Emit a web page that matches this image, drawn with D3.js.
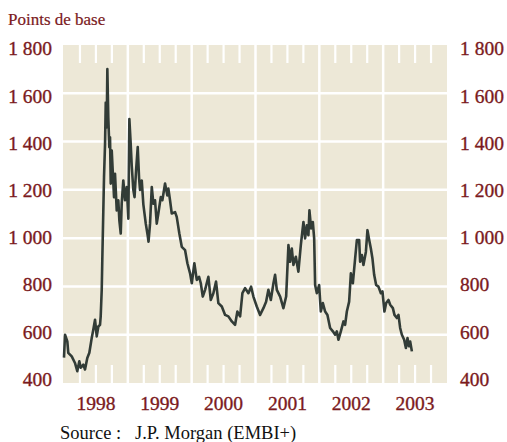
<!DOCTYPE html>
<html>
<head>
<meta charset="utf-8">
<script src="https://cdn.jsdelivr.net/npm/d3@7"></script>
<style>
  html, body { margin: 0; padding: 0; background: #ffffff; }
  svg { display: block; }
</style>
</head>
<body>
<svg id="chart" width="507" height="442"></svg>
<script>
// ---- Data ----
const yearLabels = ["1998", "1999", "2000", "2001", "2002", "2003"];
const yTickValues = [400, 600, 800, 1000, 1200, 1400, 1600, 1800];
const yAxisTitle = "Points de base";
const sourceText = "Source :\u00a0\u00a0\u00a0J.P. Morgan (EMBI+)";

// dates as decimal years
const dates = [
  1998.000, 1998.016, 1998.052, 1998.067, 1998.121, 1998.172, 1998.208, 1998.240, 1998.262, 1998.303,
  1998.329, 1998.365, 1998.397, 1998.434, 1998.459, 1998.486, 1998.513, 1998.538, 1998.564, 1998.575,
  1998.591, 1998.600, 1998.616, 1998.627, 1998.643, 1998.654, 1998.669, 1998.679, 1998.694, 1998.710,
  1998.721, 1998.732, 1998.748, 1998.763, 1998.784, 1998.799, 1998.826, 1998.851, 1998.867, 1998.889,
  1998.904, 1998.929, 1998.956, 1998.983, 1999.008, 1999.024, 1999.045, 1999.061, 1999.086, 1999.105,
  1999.129, 1999.155, 1999.176, 1999.191, 1999.218, 1999.243, 1999.281, 1999.312, 1999.324, 1999.348,
  1999.375, 1999.400, 1999.426, 1999.453, 1999.478, 1999.516, 1999.541, 1999.583, 1999.619, 1999.635,
  1999.661, 1999.688, 1999.740, 1999.766, 1999.807, 1999.845, 1999.897, 1999.933, 1999.975, 2000.002,
  2000.042, 2000.080, 2000.116, 2000.143, 2000.174, 2000.210, 2000.262, 2000.299, 2000.340, 2000.382,
  2000.418, 2000.472, 2000.524, 2000.575, 2000.629, 2000.680, 2000.716, 2000.759, 2000.795, 2000.837,
  2000.889, 2000.931, 2000.967, 2001.020, 2001.072, 2001.124, 2001.166, 2001.202, 2001.240, 2001.281,
  2001.307, 2001.334, 2001.386, 2001.437, 2001.480, 2001.516, 2001.542, 2001.569, 2001.594, 2001.632,
  2001.672, 2001.710, 2001.751, 2001.777, 2001.804, 2001.829, 2001.845, 2001.871, 2001.898, 2001.919,
  2001.934, 2001.961, 2001.997, 2002.023, 2002.055, 2002.091, 2002.127, 2002.169, 2002.212, 2002.248,
  2002.274, 2002.299, 2002.337, 2002.378, 2002.404, 2002.431, 2002.467, 2002.494, 2002.525, 2002.561,
  2002.588, 2002.624, 2002.639, 2002.666, 2002.691, 2002.729, 2002.754, 2002.781, 2002.807, 2002.832,
  2002.859, 2002.890, 2002.926, 2002.964, 2002.989, 2003.020, 2003.047, 2003.083, 2003.110, 2003.152,
  2003.177, 2003.215, 2003.240, 2003.266, 2003.293, 2003.329, 2003.356, 2003.381, 2003.403, 2003.423,
  2003.450
];
// EMBI+ spread, basis points
const spreads = [
  505, 600, 572, 525, 510, 483, 449, 490, 463, 476,
  456, 504, 525, 586, 621, 662, 593, 634, 641, 676,
  786, 909, 1115, 1253, 1390, 1562, 1459, 1700, 1500, 1377,
  1418, 1226, 1363, 1280, 1170, 1267, 1115, 1157, 1074, 1019,
  1143, 1239, 1157, 1212, 1081, 1493, 1390, 1300, 1200, 1170,
  1280, 1377, 1250, 1200, 1239, 1140, 1060, 1010, 985, 1060,
  1212, 1143, 1157, 1060, 1102, 1170, 1157, 1226, 1177, 1205,
  1157, 1102, 1108, 1088, 1019, 964, 950, 896, 854, 813,
  896, 827, 840, 813, 758, 786, 840, 744, 772, 820,
  731, 717, 682, 676, 655, 641, 696, 676, 772, 793,
  772, 799, 758, 717, 682, 710, 737, 786, 744, 813,
  848, 786, 758, 710, 758, 971, 902, 957, 889, 923,
  861, 971, 1067, 999, 1053, 1012, 1115, 1040, 1067, 999,
  806, 772, 806, 696, 731, 696, 682, 628, 614, 600,
  614, 579, 614, 655, 641, 696, 737, 854, 813, 916,
  992, 992, 902, 930, 889, 943, 1033, 992, 957, 916,
  848, 806, 799, 772, 779, 696, 731, 744, 724, 710,
  682, 669, 682, 628, 600, 579, 545, 586, 552, 572,
  531
];

// ---- Layout ----
const svg = d3.select("#chart");
const plot = { left: 63, right: 447, top: 45, bottom: 383 };
const darkRed = "#7b1a1d";
const serif = "'Liberation Serif', 'Times New Roman', serif";

const x = d3.scaleLinear().domain([1998, 2004]).range([64, plot.right]);
const y = d3.scaleLinear().domain([400, 1800]).range([plot.bottom, plot.top]);
// labels are spaced slightly tighter than the grid in the reference
const yLabel = d3.scaleLinear().domain([400, 1800]).range([379, 48.5]);

// background
svg.append("rect")
  .attr("x", plot.left).attr("y", plot.top)
  .attr("width", plot.right - plot.left).attr("height", plot.bottom - plot.top)
  .attr("fill", "#ede8d7");

// horizontal grid
svg.append("g").selectAll("line")
  .data(yTickValues.filter(v => v > 400 && v < 1800))
  .join("line")
  .attr("x1", plot.left).attr("x2", plot.right)
  .attr("y1", d => y(d)).attr("y2", d => y(d))
  .attr("stroke", "#ffffff").attr("stroke-width", 2.5);

// vertical year lines
const yearBounds = d3.range(1999, 2004);
svg.append("g").selectAll("line")
  .data(yearBounds)
  .join("line")
  .attr("x1", d => x(d)).attr("x2", d => x(d))
  .attr("y1", plot.top).attr("y2", plot.bottom)
  .attr("stroke", "#ffffff").attr("stroke-width", 2.5);

// quarter ticks at top and bottom
const quarters = [];
for (let yr = 1998; yr < 2004; yr++) for (let q = 1; q < 4; q++) quarters.push(yr + q / 4);
const tickLen = 18;
const tg = svg.append("g");
tg.selectAll("line.top").data(quarters).join("line").attr("class", "top")
  .attr("x1", d => x(d)).attr("x2", d => x(d))
  .attr("y1", plot.top).attr("y2", plot.top + tickLen)
  .attr("stroke", "#ffffff").attr("stroke-width", 2.2);
tg.selectAll("line.bot").data(quarters).join("line").attr("class", "bot")
  .attr("x1", d => x(d)).attr("x2", d => x(d))
  .attr("y1", plot.bottom - tickLen).attr("y2", plot.bottom)
  .attr("stroke", "#ffffff").attr("stroke-width", 2.2);

// data line
const series = dates.map((d, i) => ({ t: d, v: spreads[i] }));
svg.append("path")
  .datum(series)
  .attr("fill", "none")
  .attr("stroke", "#323c37")
  .attr("stroke-width", 2.6)
  .attr("stroke-linejoin", "round")
  .attr("d", d3.line().x(d => x(d.t)).y(d => y(d.v)));

// y labels
const fmt = v => v >= 1000 ? Math.floor(v / 1000) + " " + String(v % 1000).padStart(3, "0") : String(v);
const labelStroke = 0.35;
svg.append("g").selectAll("text")
  .data(yTickValues).join("text")
  .attr("x", 52).attr("y", d => yLabel(d))
  .attr("dy", "0.35em")
  .attr("text-anchor", "end")
  .attr("font-family", serif).attr("font-size", 19.5)
  .attr("fill", darkRed).attr("stroke", darkRed).attr("stroke-width", labelStroke)
  .text(fmt);
svg.append("g").selectAll("text")
  .data(yTickValues).join("text")
  .attr("x", 460).attr("y", d => yLabel(d))
  .attr("dy", "0.35em")
  .attr("text-anchor", "start")
  .attr("font-family", serif).attr("font-size", 19.5)
  .attr("fill", darkRed).attr("stroke", darkRed).attr("stroke-width", labelStroke)
  .text(fmt);

// x labels
svg.append("g").selectAll("text")
  .data(yearLabels).join("text")
  .attr("x", d => x(+d + 0.5)).attr("y", 410)
  .attr("text-anchor", "middle")
  .attr("font-family", serif).attr("font-size", 19.5)
  .attr("fill", darkRed).attr("stroke", darkRed).attr("stroke-width", labelStroke)
  .text(d => d);

// axis title
svg.append("text")
  .attr("x", 8).attr("y", 24.5)
  .attr("font-family", serif).attr("font-size", 17)
  .attr("fill", darkRed).attr("stroke", darkRed).attr("stroke-width", 0.2)
  .text(yAxisTitle);

// source
svg.append("text")
  .attr("x", 60).attr("y", 439)
  .attr("font-family", serif).attr("font-size", 18.5)
  .attr("fill", "#111111")
  .text(sourceText);
</script>
</body>
</html>
